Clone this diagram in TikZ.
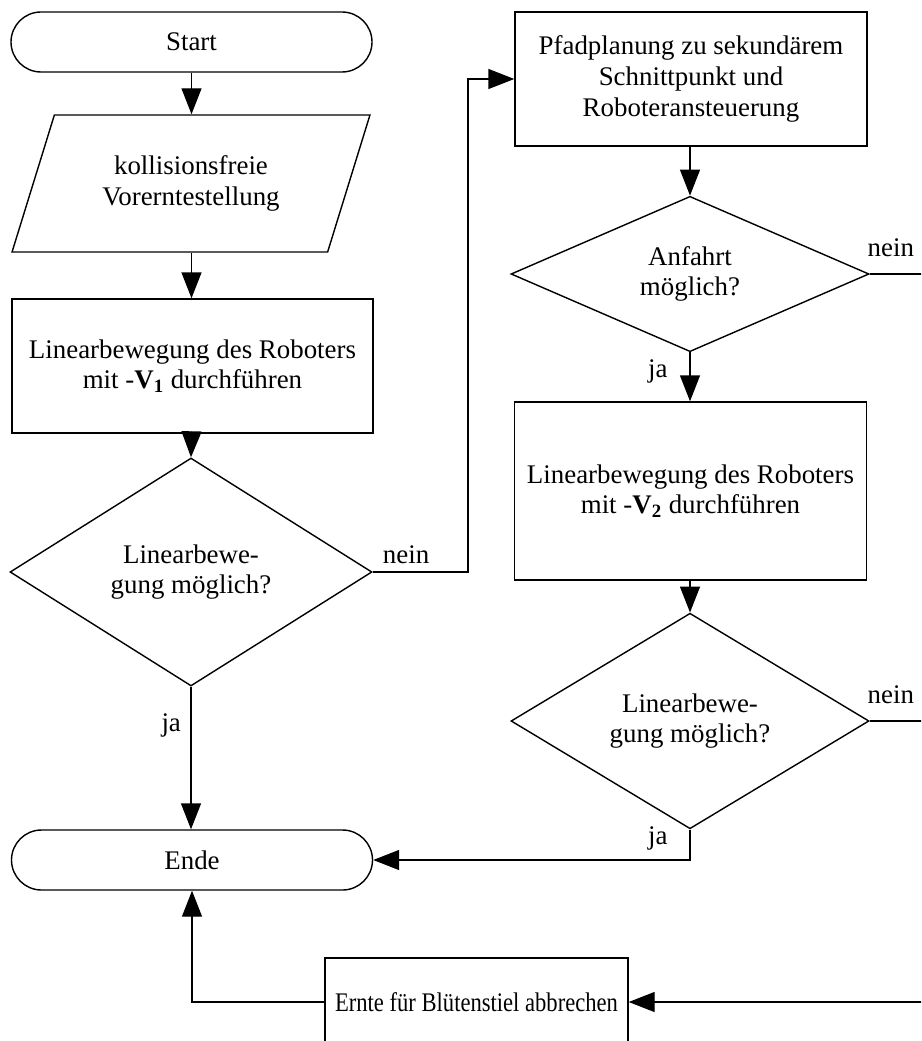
\documentclass[tikz,border=0pt]{standalone}
\usepackage{fontspec}
\setmainfont{Liberation Serif}
\usetikzlibrary{shapes.geometric,arrows.meta}

\begin{document}
\begin{tikzpicture}[line width=0.8pt,
            every node/.style={font=\fontsize{15.3}{17.4}\selectfont, align=center},
            term/.style={draw, rectangle, rounded corners=0.6cm, minimum width=7.22cm, minimum height=1.2cm, inner sep=0pt},
            proc/.style={draw, rectangle, minimum width=7.04cm, inner sep=0pt},
            dec/.style={draw, diamond, inner sep=0pt},
            io/.style={draw, trapezium, trapezium left angle=63.6, trapezium right angle=116.4, trapezium stretches=true, minimum width=7.16cm, minimum height=2.74cm, inner sep=0pt},
            arr/.style={-{Triangle[length=5.2mm,width=4mm]}}]

            \clip (0,0) rectangle (18.42,-20.82);

            %left column
            \node[term] (start) at (3.83,-0.84) {Start};
            \node[io] (para) at (3.82,-3.67) {kollisionsfreie\\Vorerntestellung};
            \node[proc, minimum width=7.22cm, minimum height=2.68cm] (move1) at (3.85,-7.32)
                 {Linearbewegung des Roboters\\mit -\textbf{V\textsubscript{1}} durchführen};
            \node[dec, minimum width=7.24cm, minimum height=4.56cm] (check1) at (3.82,-11.44)
                 {Linearbewe-\\gung möglich?};
            \node[term] (ende) at (3.84,-17.2) {Ende};

            %right column
            \node[proc, minimum height=2.68cm] (plan) at (13.82,-1.58)
                 {Pfadplanung zu sekundärem\\Schnittpunkt und\\Roboteransteuerung};
            \node[dec, minimum width=7.16cm, minimum height=2.98cm] (check2) at (13.8,-5.48)
                 {Anfahrt\\möglich?};
            \node[proc, minimum height=3.56cm] (move2) at (13.81,-9.82)
                 {Linearbewegung des Roboters\\mit -\textbf{V\textsubscript{2}} durchführen};
            \node[dec, minimum width=7.16cm, minimum height=3.54cm] (check3) at (13.8,-14.42)
                 {Linearbewe-\\gung möglich?};
            \node[proc, minimum width=6.06cm, minimum height=1.76cm] (abort) at (9.53,-20.04)
                 {\scalebox{0.84}[1]{Ernte für Blütenstiel abbrechen}};

            \coordinate (back) at (18.6,-5.48);

            %connectors
            \draw[arr] (start.south) -- (start.south |- para.north);
            \draw[arr] (start.south |- para.south) -- (move1.north -| start.south);
            \draw[arr] (move1.south -| start.south) -- (check1.north);
            \draw[arr] (check1.south) -- (ende.north -| check1.south)
                 node[pos=0.27, left=2pt] {ja};
            \draw[arr] (check1.east) -- (9.36,-11.44)
                 node[pos=0.35, above=1pt] {nein} |- (plan.west);
            \draw[arr] (plan.south -| check2.north) -- (check2.north);
            \draw (check2.east) -- (back) node[pos=0.35, above=6pt] {nein};
            \draw[arr] (check2.south) -- (move2.north -| check2.south)
                 node[pos=0.4, left=9pt] {ja};
            \draw[arr] (move2.south -| check3.north) -- (check3.north);
            \draw (check3.east) -- (check3.east -| back) node[pos=0.35, above=6pt] {nein};
            \draw[arr] (check3.south) -- (check3.south |- ende.east)
                 node[pos=0.3, left=9pt] {ja} -- (ende.east);
            \draw[arr] (back) -- (back |- abort.east) -- (abort.east);
            \draw[arr] (abort.west) -- (abort.west -| ende.south) -- (ende.south);
\end{tikzpicture}
\end{document}
